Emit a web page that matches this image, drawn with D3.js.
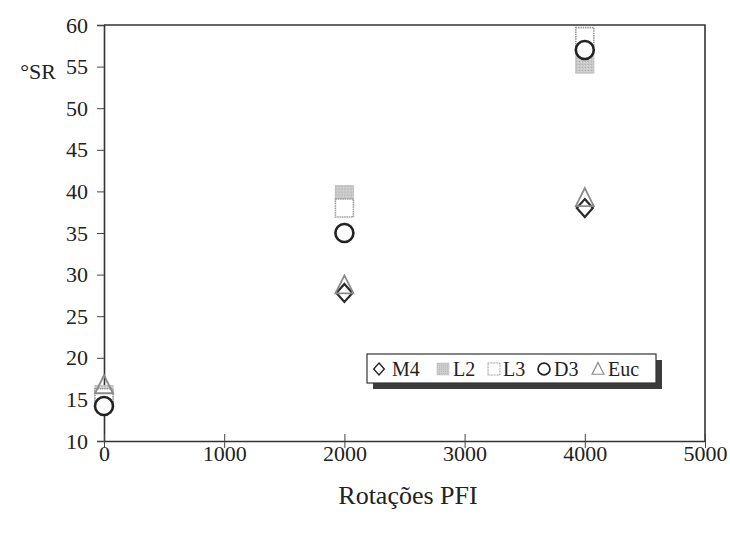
<!DOCTYPE html>
<html>
<head>
<meta charset="utf-8">
<script src="https://cdn.jsdelivr.net/npm/d3@7"></script>
<style>
  html, body { margin: 0; padding: 0; background: #fff; }
  svg { display: block; }
  text { font-family: "Liberation Serif", "Times New Roman", serif; fill: #222; }
</style>
</head>
<body>
<svg id="chart" width="730" height="539"></svg>
<script>
// PFI refining: Schopper-Riegler degree vs. number of revolutions
const rotations = [0, 2000, 4000];
const seriesNames = ["M4", "L2", "L3", "D3", "Euc"];
const valuesM4  = [15.0, 27.8, 38.0];
const valuesL2  = [15.6, 39.6, 55.3];
const valuesL3  = [15.2, 38.0, 58.6];
const valuesD3  = [14.2, 35.0, 57.0];
const valuesEuc = [16.7, 28.7, 39.2];
const xTicks = [0, 1000, 2000, 3000, 4000, 5000];
const yTicks = [10, 15, 20, 25, 30, 35, 40, 45, 50, 55, 60];

const svg = d3.select("#chart");
const plotLeft = 104, plotRight = 705, plotTop = 25, plotBottom = 441;

const x = d3.scaleLinear().domain([0, 5000]).range([plotLeft, plotRight]);
const y = d3.scaleLinear().domain([10, 60]).range([plotBottom, plotTop]);

// stipple pattern for the grey filled squares
const defs = svg.append("defs");
const pat = defs.append("pattern").attr("id", "stipple")
  .attr("width", 3).attr("height", 3).attr("patternUnits", "userSpaceOnUse");
pat.append("rect").attr("width", 3).attr("height", 3).attr("fill", "#c9c9c9");
pat.append("rect").attr("x", 0).attr("y", 0).attr("width", 1).attr("height", 1).attr("fill", "#a8a8a8");
pat.append("rect").attr("x", 2).attr("y", 1).attr("width", 1).attr("height", 1).attr("fill", "#e4e4e4");

// plot frame (top and right edges)
svg.append("path")
  .attr("d", `M${plotLeft},${plotTop}H${plotRight}V${plotBottom}`)
  .attr("fill", "none").attr("stroke", "#333").attr("stroke-width", 1.6);

const tickFont = (sel) => sel
  .style("font-family", '"Liberation Serif", "Times New Roman", serif')
  .style("font-size", "22px").attr("fill", "#222");

// y axis: outward ticks
const yAxis = d3.axisLeft(y).tickValues(yTicks).tickSize(7).tickPadding(9);
const gy = svg.append("g").attr("transform", `translate(${plotLeft},0)`).call(yAxis);
gy.select(".domain").attr("stroke", "#333").attr("stroke-width", 1.6);
gy.selectAll(".tick line").attr("stroke", "#444");
tickFont(gy.selectAll("text"));

// x axis: ticks crossing the axis line
const xAxis = d3.axisBottom(x).tickValues(xTicks).tickSize(0).tickPadding(4).tickFormat(d3.format("d"));
const gx = svg.append("g").attr("transform", `translate(0,${plotBottom})`).call(xAxis);
gx.select(".domain").attr("stroke", "#333").attr("stroke-width", 1.6);
gx.selectAll(".tick").append("line").attr("y1", -7).attr("y2", 7).attr("stroke", "#444");
tickFont(gx.selectAll("text"));

// axis titles
svg.append("text").attr("x", 38).attr("y", 79).attr("text-anchor", "middle")
  .style("font-size", "22px").text("°SR");
svg.append("text").attr("x", 408).attr("y", 504).attr("text-anchor", "middle")
  .style("font-size", "26px").text("Rotações PFI");

// marker drawing helpers
const S = 9; // half size
const markers = {
  M4: (g) => g.append("path").attr("d", `M0,${-S}L${S-1},0L0,${S}L${-S+1},0Z`)
    .attr("fill", "none").attr("stroke", "#2a2a2a").attr("stroke-width", 2.2),
  L2: (g) => g.append("rect").attr("x", -S).attr("y", -S).attr("width", 2*S).attr("height", 2*S)
    .attr("fill", "url(#stipple)").attr("stroke", "#bdbdbd").attr("stroke-width", 1),
  L3: (g) => g.append("rect").attr("x", -S).attr("y", -S).attr("width", 2*S).attr("height", 2*S)
    .attr("fill", "#fff").attr("stroke", "#999").attr("stroke-width", 1.6).attr("stroke-dasharray", "1.5,0.8"),
  D3: (g) => g.append("circle").attr("r", S)
    .attr("fill", "#fff").attr("stroke", "#222").attr("stroke-width", 2.6),
  Euc: (g) => g.append("path").attr("d", `M0,${-S-1}L${S},${S-1}L${-S},${S-1}Z`)
    .attr("fill", "none").attr("stroke", "#8a8a8a").attr("stroke-width", 1.8)
};

const series = [
  { name: "M4", values: valuesM4 },
  { name: "L2", values: valuesL2 },
  { name: "L3", values: valuesL3 },
  { name: "D3", values: valuesD3 },
  { name: "Euc", values: valuesEuc }
];

series.forEach(s => {
  rotations.forEach((r, i) => {
    const g = svg.append("g").attr("transform", `translate(${x(r)},${y(s.values[i])})`);
    markers[s.name](g);
  });
});

// legend with drop shadow
const lg = svg.append("g").attr("transform", "translate(367,354)");
lg.append("rect").attr("x", 6).attr("y", 6).attr("width", 289).attr("height", 29).attr("fill", "#3c3c3c");
lg.append("rect").attr("x", 0).attr("y", 0).attr("width", 289).attr("height", 29)
  .attr("fill", "#fff").attr("stroke", "#333").attr("stroke-width", 1.2);
const legendX = [12, 76, 127, 177, 231];
const legendTextX = [25, 86, 136, 187, 241];
seriesNames.forEach((n, i) => {
  const g = lg.append("g").attr("transform", `translate(${legendX[i]},15) scale(0.66)`);
  markers[n](g);
  lg.append("text").attr("x", legendTextX[i]).attr("y", 22).style("font-size", "20px").text(n);
});
</script>
</body>
</html>
